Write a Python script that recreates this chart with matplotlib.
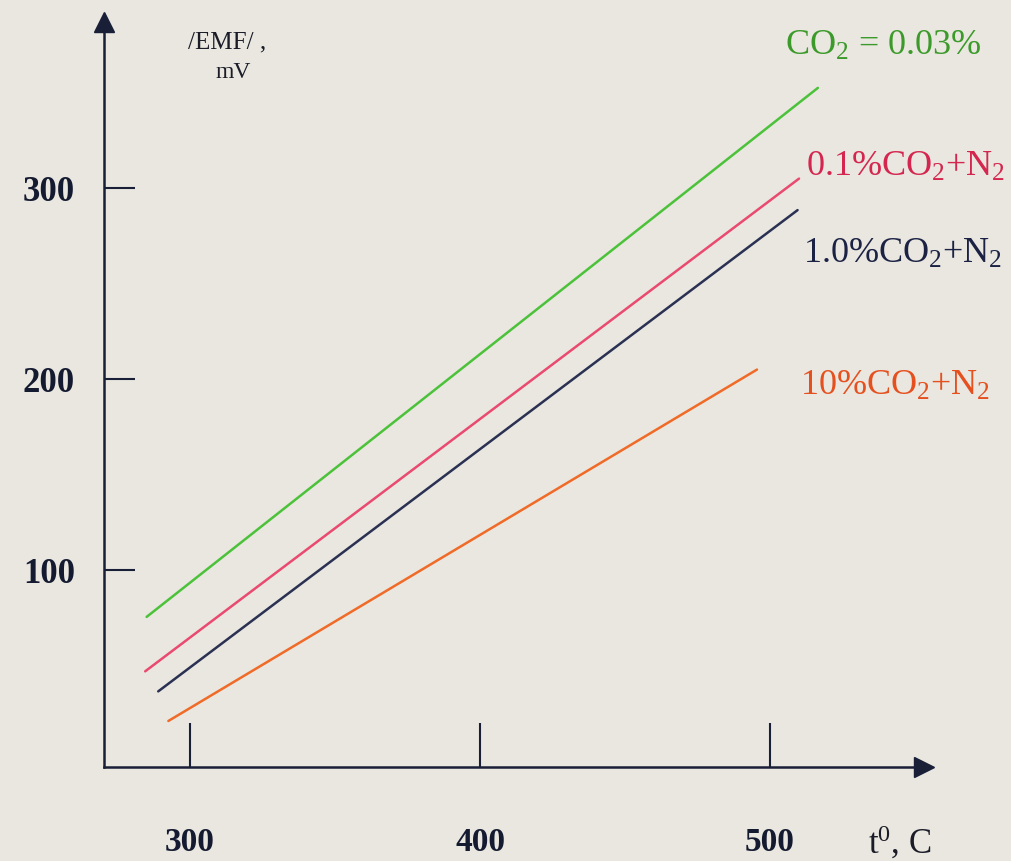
import matplotlib
matplotlib.use("Agg")
import matplotlib.pyplot as plt

# EMF of the CO2 sensor versus temperature for several gas mixtures
series_labels = [
    "CO$_2$ = 0.03%",
    "0.1%CO$_2$+N$_2$",
    "1.0%CO$_2$+N$_2$",
    "10%CO$_2$+N$_2$",
]
temp_start = [285.0, 284.5, 289.0, 292.5]     # deg C
temp_end = [516.5, 510.0, 509.5, 495.5]       # deg C
emf_start = [75.5, 47.0, 36.5, 21.0]          # mV
emf_end = [352.5, 305.0, 288.5, 205.0]        # mV

x_ticks = [300, 400, 500]
y_ticks = [100, 200, 300]

line_colors = ["#4cc23a", "#ea4a70", "#2a3152", "#f06a28"]
text_colors = ["#3c9a2a", "#d4264e", "#1c2244", "#e5501e"]
axis_color = "#1a1f38"
paper = "#e9e7e0"

plt.rcParams["font.family"] = ["Liberation Serif", "DejaVu Serif"]
plt.rcParams["mathtext.fontset"] = "custom"
plt.rcParams["mathtext.rm"] = "Liberation Serif"
plt.rcParams["mathtext.it"] = "Liberation Serif:italic"
plt.rcParams["mathtext.bf"] = "Liberation Serif:bold"

W, H = 1012, 861
fig = plt.figure(figsize=(W / 100, H / 100), dpi=100, facecolor=paper)
ax = fig.add_axes([104 / W, (H - 767) / H, 820 / W, 745 / H])
ax.set_facecolor(paper)
ax.set_xlim(270.3, 553.1)
ax.set_ylim(-3.1, 387.0)

for x0, x1, y0, y1, c in zip(temp_start, temp_end, emf_start, emf_end, line_colors):
    ax.plot([x0, x1], [y0, y1], color=c, lw=1.8, solid_capstyle="round")

# axes drawn as arrows
for side in ("top", "right"):
    ax.spines[side].set_visible(False)
for side in ("left", "bottom"):
    ax.spines[side].set_color(axis_color)
    ax.spines[side].set_linewidth(1.8)
ax.plot(1, 0, ">", color=axis_color, ms=15, transform=ax.transAxes, clip_on=False)
ax.plot(0, 1, "^", color=axis_color, ms=15, transform=ax.transAxes, clip_on=False)

ax.set_xticks(x_ticks)
ax.set_yticks(y_ticks)
ax.set_xticklabels([str(v) for v in x_ticks], fontsize=24, fontweight="bold", color="#141a30")
ax.set_yticklabels([str(v) for v in y_ticks], fontsize=25, fontweight="bold", color="#141a30")
ax.tick_params(axis="x", direction="in", length=32, width=1.5, color=axis_color, pad=43)
ax.tick_params(axis="y", direction="in", length=22, width=1.5, color=axis_color, pad=21)

# axis titles
fig.text(227 / W, 1 - 42 / H, "/EMF/ ,", fontsize=18, ha="center", va="center", color="#1c1c28")
fig.text(233 / W, 1 - 73 / H, "mV", fontsize=17, ha="center", va="center", color="#1c1c28")
fig.text(868 / W, 1 - 854 / H, "t$^0$, C", fontsize=25, ha="left", va="baseline", color="#1c1c28")

# curve labels
label_pos = [(785, 55), (806, 176), (803, 263), (800, 395)]
for (px, py), text, c in zip(label_pos, series_labels, text_colors):
    fig.text(px / W, 1 - py / H, text, fontsize=26, ha="left", va="baseline", color=c)

fig.savefig("out.png", dpi=100, facecolor=paper)
